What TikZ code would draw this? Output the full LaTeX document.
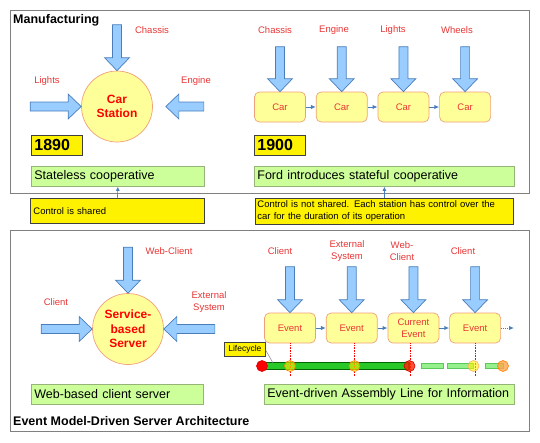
\documentclass[tikz,border=0pt]{standalone}
\usepackage{fontspec}
\setmainfont{Liberation Sans}
\usetikzlibrary{arrows.meta,positioning}

\definecolor{labelred}{RGB}{232,52,52}
\definecolor{feedfill}{RGB}{153,204,255}
\definecolor{feedline}{RGB}{74,126,187}
\definecolor{stationfill}{RGB}{255,255,153}
\definecolor{stationline}{RGB}{240,160,120}
\definecolor{notefill}{RGB}{204,255,153}
\definecolor{noteline}{RGB}{150,180,120}
\definecolor{framegray}{RGB}{128,128,128}
\definecolor{barfill}{RGB}{40,200,40}
\definecolor{barline}{RGB}{0,100,0}
\definecolor{dashfill}{RGB}{150,240,140}
\definecolor{dashline}{RGB}{90,200,90}

% block arrow feeding a station: tip, rotation, length
\newcommand{\feedarrow}[3]{%
  \begin{scope}[shift={(#1)}, rotate=#2]
    \draw[feed] (0,0) -- (-13,12.5) -- (-13,4.5) -- (-#3,4.5) -- (-#3,-4.5) -- (-13,-4.5) -- (-13,-12.5) -- cycle;
  \end{scope}}

\begin{document}
\begin{tikzpicture}[x=1pt, y=-1pt, font=\fontsize{9.5}{11.5}\selectfont, node distance=10pt,
  feed/.style={draw=feedline, fill=feedfill, line width=0.7pt},
  lbl/.style={text=labelred, align=center, inner sep=1pt},
  station/.style={circle, draw=stationline, fill=stationfill, line width=0.7pt, minimum size=71pt, inner sep=0pt,
    align=center, text=red, font=\fontsize{12}{14.5}\selectfont\bfseries},
  stage/.style={draw=stationline, fill=stationfill, rounded corners=5pt, line width=0.7pt, minimum width=51pt,
    minimum height=30pt, inner sep=1pt, align=center, text=labelred},
  year/.style={draw=black!75, fill=yellow, line width=0.8pt, anchor=north west, minimum height=20pt, text width=45pt,
    inner sep=3pt, font=\fontsize{16}{18}\selectfont\bfseries},
  note/.style={draw=noteline, fill=notefill, line width=0.8pt, anchor=north west, minimum height=20pt, inner sep=3pt,
    align=left, font=\fontsize{12.5}{15}\selectfont},
  ctl/.style={draw=black!75, fill=yellow, line width=0.8pt, anchor=north west, inner sep=3pt, align=left,
    font=\fontsize{9.5}{12}\selectfont},
  link/.style={draw=feedline, line width=1pt, -{Latex[length=5pt,width=4.5pt]}},
  panel/.style={draw=framegray, line width=0.9pt},
  heading/.style={anchor=west, inner sep=0pt, font=\fontsize{12.5}{15}\selectfont\bfseries},
  milestone/.style={circle, minimum size=11pt, inner sep=0pt, line width=0.6pt},
  dashbar/.style={draw=dashline, fill=dashfill, line width=0.6pt},
  vline/.style={red, densely dotted, line width=0.6pt}]
\useasboundingbox (0,0) rectangle (540,442);
\draw[panel] (10,10) rectangle (529,193);
\draw[panel] (10,230) rectangle (529,431);
\node[heading] (manu) at (13,20) {Manufacturing};
\node[heading] (emds) at (13,421) {Event Model-Driven Server Architecture};

% 1890: one station
\node[station] (carst) at (117,106.5) {Car\\Station};
\feedarrow{carst.north}{-90}{46}
\feedarrow{carst.west}{0}{51}
\feedarrow{[xshift=13pt]carst.east}{180}{38}
\node[lbl] (lchassis) at (152,30) {Chassis};
\node[lbl] (llights) at (47,81) {Lights};
\node[lbl] (lengine) at (196,81) {Engine};
\node[year] (y1890) at (31,135) {1890};
\node[note, text width=167pt] (stateless) at (31,166) {Stateless cooperative};

% 1900: assembly line
\node[stage] (car1) at (280,107) {Car};
\node[stage, right=of car1] (car2) {Car};
\node[stage, right=of car2] (car3) {Car};
\node[stage, right=of car3] (car4) {Car};
\foreach \c in {car1,car2,car3,car4} {\feedarrow{\c.north}{-90}{45}}
\node[lbl] (lc1) at (275,30) {Chassis};
\node[lbl] (lc2) at (334,30) {Engine};
\node[lbl] (lc3) at (393,30) {Lights};
\node[lbl] (lc4) at (457,30) {Wheels};
\draw[link] (car1) -- (car2);
\draw[link] (car2) -- (car3);
\draw[link] (car3) -- (car4);
\node[year] (y1900) at (254,135) {1900};
\node[note, text width=254pt] (ford) at (254,166) {Ford introduces stateful cooperative};

% control notes
\node[ctl, text width=168pt, minimum height=25pt] (ctl1) at (30,198) {Control is shared};
\node[ctl, text width=254pt, minimum height=26pt, inner sep=2pt] (ctl2) at (255,198)
  {Control is not shared. Each station has control over the\\car for the duration of its operation};
\draw[link, line width=0.6pt, -{Latex[length=4pt,width=4pt]}] (ctl1.north) -- (stateless.south);
\draw[link, line width=0.6pt, -{Latex[length=4pt,width=4pt]}] (ctl2.north) -- (ford.south);

% server
\node[station] (srv) at (128,329) {Service-\\based\\Server};
\feedarrow{srv.north}{-90}{46}
\feedarrow{srv.west}{0}{51}
\feedarrow{srv.east}{180}{51}
\node[lbl] (lweb) at (169,251) {Web-Client};
\node[lbl] (lclient) at (56,302) {Client};
\node[lbl] (lext) at (209,302) {External\\System};
\node[note, text width=166pt] (webcs) at (31,384) {Web-based client server};

% events
\node[stage] (ev1) at (290,328) {Event};
\node[stage, right=of ev1] (ev2) {Event};
\node[stage, right=of ev2] (ev3) {Current\\Event};
\node[stage, right=of ev3] (ev4) {Event};
\foreach \e in {ev1,ev2,ev3,ev4} {\feedarrow{\e.north}{-90}{46}}
\node[lbl] (le1) at (280,251) {Client};
\node[lbl] (le2) at (347,251) {External\\System};
\node[lbl] (le3) at (402,251) {Web-\\Client};
\node[lbl] (le4) at (463,251) {Client};
\draw[link] (ev1) -- (ev2);
\draw[link] (ev2) -- (ev3);
\draw[link] (ev3) -- (ev4);
\coordinate (evnext) at (514,328);
\draw[link, densely dotted] (ev4) -- (evnext);

% lifecycle bar
\draw[draw=barline, fill=barfill, line width=1.3pt] (262,362.5) rectangle (409,369.5);
\foreach \a/\b in {421/443, 447/473, 485/503} {\draw[dashbar] (\a,363.5) rectangle (\b,368.5);}
\draw[vline] (ev1.south) -- ++(0,33);
\draw[vline] ([xshift=2.5pt]ev2.south) -- ++(0,33);
\draw[vline] ([xshift=-3pt]ev3.south) -- ++(0,33);
\draw[vline] (ev4.south) -- ++(0,33);
\node[milestone, fill=red, draw=red!85!black] (start) at (262,366) {};
\node[milestone, fill=yellow, fill opacity=0.6, draw=orange] (m1) at (290,366) {};
\node[milestone, fill=yellow, fill opacity=0.6, draw=orange] (m2) at (354.5,366) {};
\node[milestone, fill=red!70!orange, fill opacity=0.8, draw=red!80!black] (m3) at (409.5,366) {};
\node[milestone, fill=yellow, fill opacity=0.6, draw=orange!60] (m4) at (473.5,366) {};
\node[milestone, fill=orange!70, fill opacity=0.8, draw=orange] (m5) at (503,366) {};
\node[ctl, font=\fontsize{8.5}{10}\selectfont, inner sep=1.5pt, minimum height=14pt, minimum width=41pt] (life) at (224,342) {Lifecycle};
\coordinate (lifehit) at (273,363);
\draw[gray, line width=0.5pt] ([yshift=-1pt]life.east) -- (lifehit);
\node[note, text width=244pt] (evline) at (264,384) {Event-driven Assembly Line for Information};
\end{tikzpicture}
\end{document}
